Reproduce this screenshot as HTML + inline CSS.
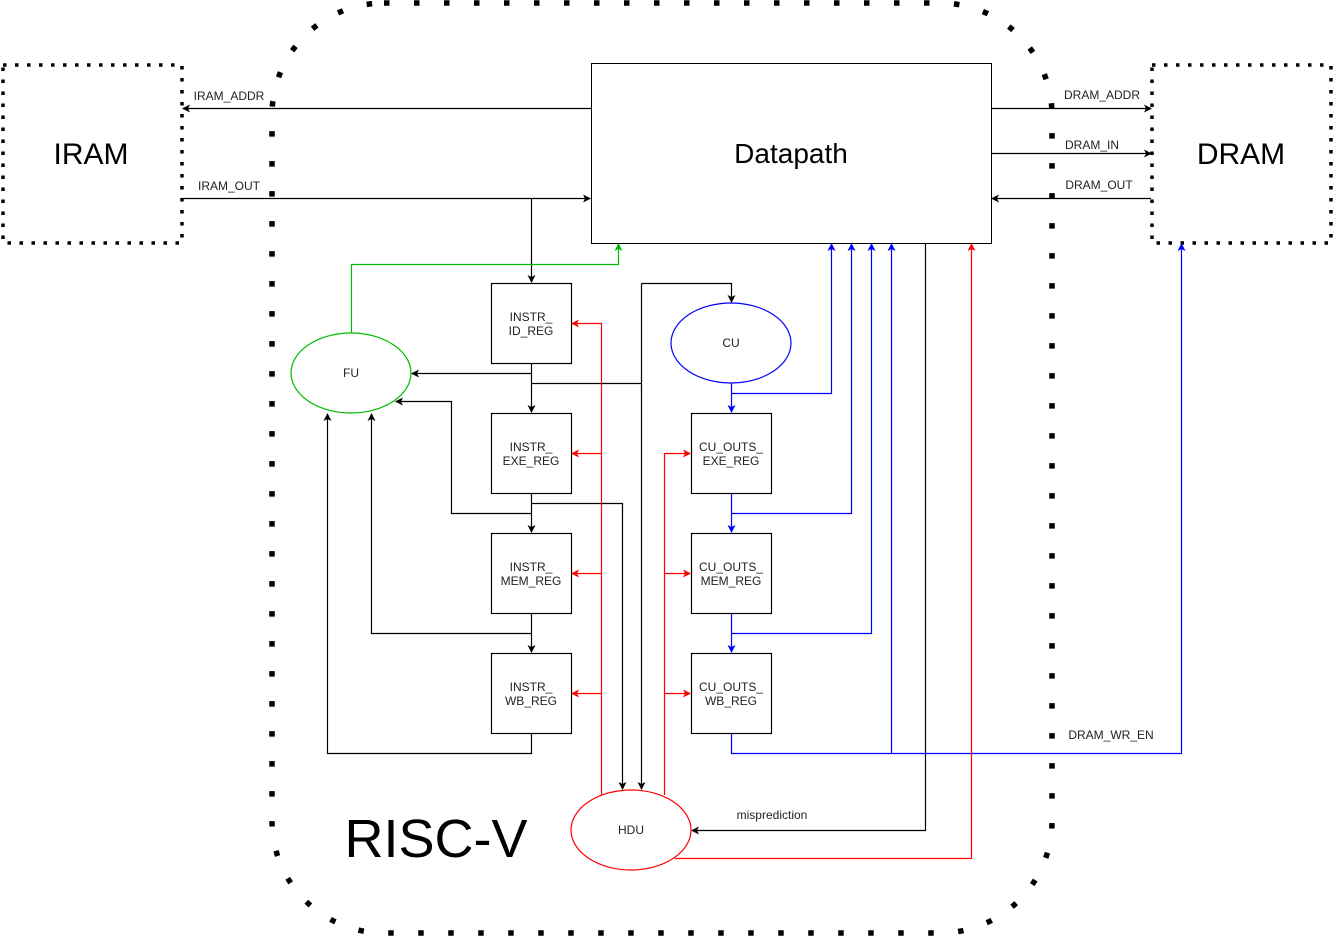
<!DOCTYPE html>
<html><head><style>body{margin:0;background:#fff}svg{display:block}text{font-family:"Liberation Sans",Arial,sans-serif}</style></head><body>
<svg width="1334" height="937" viewBox="0 0 1334 937" xmlns="http://www.w3.org/2000/svg">
<defs>
<marker id="ak" markerWidth="8" markerHeight="8" refX="7" refY="4" orient="auto" markerUnits="userSpaceOnUse"><path d="M0,0 L8,4 L0,8 L2,4z" fill="#000"/></marker>
<marker id="ar" markerWidth="8" markerHeight="8" refX="7" refY="4" orient="auto" markerUnits="userSpaceOnUse"><path d="M0,0 L8,4 L0,8 L2,4z" fill="#f00"/></marker>
<marker id="ab" markerWidth="8" markerHeight="8" refX="7" refY="4" orient="auto" markerUnits="userSpaceOnUse"><path d="M0,0 L8,4 L0,8 L2,4z" fill="#00f"/></marker>
<marker id="ag" markerWidth="8" markerHeight="8" refX="7" refY="4" orient="auto" markerUnits="userSpaceOnUse"><path d="M0,0 L8,4 L0,8 L2,4z" fill="#0b0"/></marker>
</defs>
<rect x="272" y="3" width="780" height="930" rx="112" fill="none" stroke="#000" stroke-width="5.5" stroke-dasharray="5.5 24.5"/>
<rect x="3" y="65" width="179" height="178" fill="none" stroke="#000" stroke-width="3.5" stroke-dasharray="3.5 8.5"/>
<rect x="1152" y="65" width="179" height="178" fill="none" stroke="#000" stroke-width="3.5" stroke-dasharray="3.5 8.5"/>
<text x="91" y="164" font-size="30" text-anchor="middle">IRAM</text>
<text x="1241" y="164" font-size="30" text-anchor="middle">DRAM</text>
<rect x="591.5" y="63.5" width="400" height="180" fill="#fff" stroke="#000"/>
<text x="791" y="163" font-size="28" text-anchor="middle">Datapath</text>
<text x="436" y="857" font-size="54" text-anchor="middle">RISC-V</text>
<g fill="none" stroke="#000" stroke-width="1.2">
<path d="M591 108.5H183" marker-end="url(#ak)"/>
<path d="M182 198.5H590" marker-end="url(#ak)"/>
<path d="M531.5 198V282" marker-end="url(#ak)"/>
<path d="M991 108.5H1151" marker-end="url(#ak)"/>
<path d="M991 153.5H1151" marker-end="url(#ak)"/>
<path d="M1151 198.5H992" marker-end="url(#ak)"/>
<path d="M531.5 363V412" marker-end="url(#ak)"/>
<path d="M531.5 373.5H412" marker-end="url(#ak)"/>
<path d="M531.5 383.5H641.5"/>
<path d="M641.5 283.5V789" marker-end="url(#ak)"/>
<path d="M641.5 283.5H731.5V302" marker-end="url(#ak)"/>
<path d="M531.5 493V532" marker-end="url(#ak)"/>
<path d="M531.5 503.5H622.5V789" marker-end="url(#ak)"/>
<path d="M531.5 513.5H451.5V401.5H396" marker-end="url(#ak)"/>
<path d="M531.5 613V652" marker-end="url(#ak)"/>
<path d="M531.5 633.5H371.5V414" marker-end="url(#ak)"/>
<path d="M531.5 733V753.5H327.5V414" marker-end="url(#ak)"/>
<path d="M925.5 243V830.5H692" marker-end="url(#ak)"/>
</g>
<g fill="none" stroke="#00f" stroke-width="1.2">
<path d="M731.5 383V412" marker-end="url(#ab)"/>
<path d="M731.5 393.5H831.5V244" marker-end="url(#ab)"/>
<path d="M731.5 493V532" marker-end="url(#ab)"/>
<path d="M731.5 513.5H851.5V244" marker-end="url(#ab)"/>
<path d="M731.5 613V652" marker-end="url(#ab)"/>
<path d="M731.5 633.5H871.5V244" marker-end="url(#ab)"/>
<path d="M731.5 733V753.5H1181.5V244" marker-end="url(#ab)"/>
<path d="M891.5 753.5V244" marker-end="url(#ab)"/>
</g>
<g fill="none" stroke="#f00" stroke-width="1.2">
<path d="M601.5 795V323.5H572" marker-end="url(#ar)"/>
<path d="M601.5 453.5H572" marker-end="url(#ar)"/>
<path d="M601.5 573.5H572" marker-end="url(#ar)"/>
<path d="M601.5 693.5H572" marker-end="url(#ar)"/>
<path d="M664.5 795V453.5H690" marker-end="url(#ar)"/>
<path d="M664.5 573.5H690" marker-end="url(#ar)"/>
<path d="M664.5 693.5H690" marker-end="url(#ar)"/>
<path d="M675 858.5H971.5V244" marker-end="url(#ar)"/>
</g>
<path d="M351.5 333V264.5H618.5V244" fill="none" stroke="#0b0" stroke-width="1.2" marker-end="url(#ag)"/>
<g fill="#fff" stroke="#000" stroke-width="1.2">
<rect x="491.5" y="283.5" width="80" height="80"/>
<rect x="491.5" y="413.5" width="80" height="80"/>
<rect x="491.5" y="533.5" width="80" height="80"/>
<rect x="491.5" y="653.5" width="80" height="80"/>
<rect x="691.5" y="413.5" width="80" height="80"/>
<rect x="691.5" y="533.5" width="80" height="80"/>
<rect x="691.5" y="653.5" width="80" height="80"/>
</g>
<ellipse cx="351" cy="373" rx="60" ry="40" fill="#fff" stroke="#0b0" stroke-width="1.2"/>
<ellipse cx="731" cy="343" rx="60" ry="40" fill="#fff" stroke="#00f" stroke-width="1.2"/>
<ellipse cx="631" cy="830" rx="60" ry="40" fill="#fff" stroke="#f00" stroke-width="1.2"/>
<g font-size="12" text-anchor="middle" fill="#222">
<text x="351" y="377">FU</text>
<text x="731" y="347">CU</text>
<text x="631" y="834">HDU</text>
<text x="531" y="321">INSTR_</text><text x="531" y="335">ID_REG</text>
<text x="531" y="451">INSTR_</text><text x="531" y="465">EXE_REG</text>
<text x="531" y="571">INSTR_</text><text x="531" y="585">MEM_REG</text>
<text x="531" y="691">INSTR_</text><text x="531" y="705">WB_REG</text>
<text x="731" y="451">CU_OUTS_</text><text x="731" y="465">EXE_REG</text>
<text x="731" y="571">CU_OUTS_</text><text x="731" y="585">MEM_REG</text>
<text x="731" y="691">CU_OUTS_</text><text x="731" y="705">WB_REG</text>
<text x="229" y="100">IRAM_ADDR</text>
<text x="229" y="190">IRAM_OUT</text>
<text x="1102" y="99">DRAM_ADDR</text>
<text x="1092" y="149">DRAM_IN</text>
<text x="1099" y="189">DRAM_OUT</text>
<text x="1111" y="739">DRAM_WR_EN</text>
<text x="772" y="819">misprediction</text>
</g>
</svg>
</body></html>
